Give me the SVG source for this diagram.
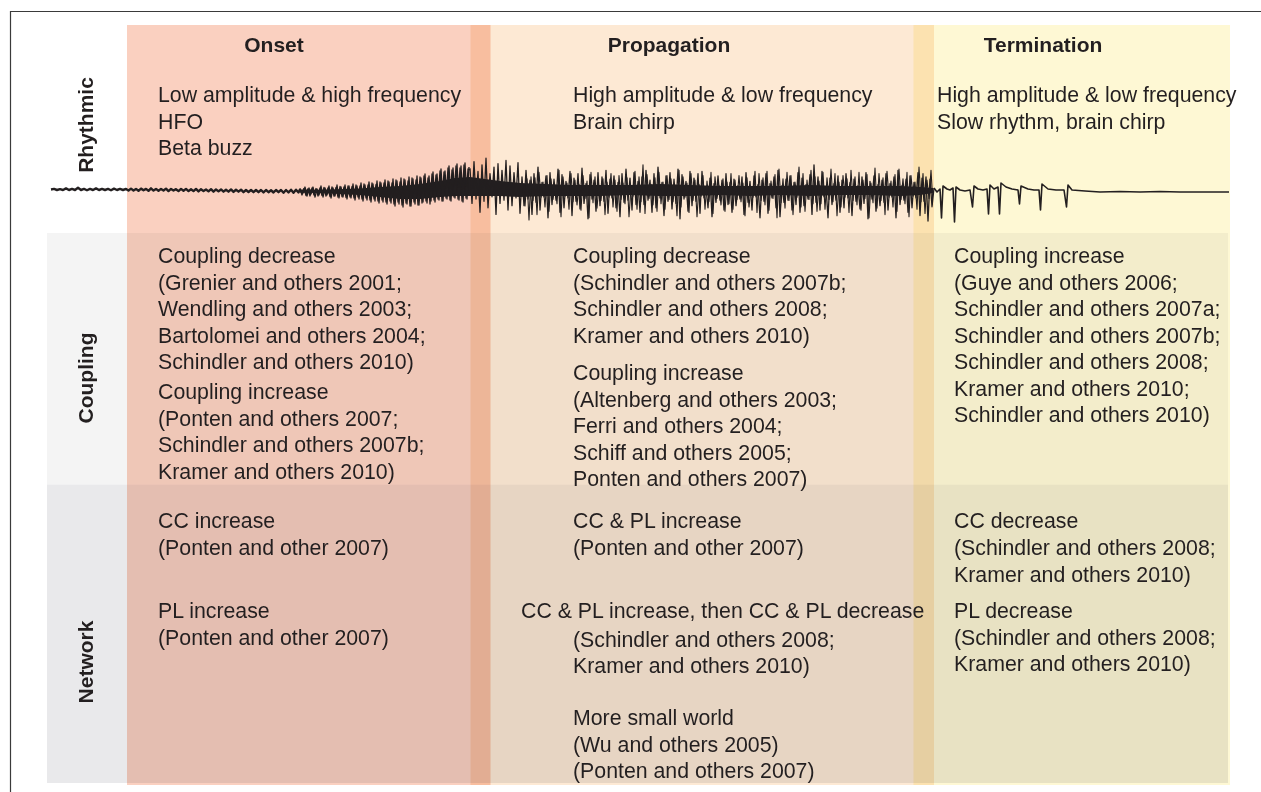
<svg xmlns="http://www.w3.org/2000/svg" width="1261" height="792" viewBox="0 0 1261 792">
<style>
text{font-family:"Liberation Sans",Arial,sans-serif;font-size:21.3px;fill:#231f20}
.h{font-weight:bold;text-anchor:middle;font-size:21px}
.col{mix-blend-mode:multiply}
</style>
<defs>
<clipPath id="mid"><rect x="474" y="140" width="459" height="100"/></clipPath>
<path id="burst" d="M470 170 472 202 474 164 476 198 478 173 480 210 482 167 484 200 486 161 488 206 490 175 492 196 494 169 496 212 498 166 500 202 502 172 504 199 506 163 508 208 510 168 512 204 514 174 516 197 518 165 520 211 522 178 524 204 526 172 528 198 530 181 532 212 534 175 536 201 538 169 540 208 542 183 544 196 546 177 548 215 550 174 552 203 554 180 556 199 558 171 560 210 562 176 564 206 566 182 568 197 570 173 572 213 574 179 576 200 578 175 580 207 582 170 584 202 586 184 588 216 590 176 592 198 594 181 596 209 598 174 600 204 602 178 604 200 606 172 608 211 610 180 612 197 614 177 616 206 618 183 620 214 622 175 624 201 626 171 628 199 630 179 632 208 634 174 636 203 638 182 640 210 642 178 644 203 646 172 648 199 650 181 652 210 654 175 656 206 658 169 660 197 662 183 664 213 666 177 668 200 670 174 672 207 674 180 676 202 678 171 680 216 682 176 684 198 686 182 688 209 690 173 692 204 694 179 696 200 698 175 700 211 702 173 704 197 706 187 708 206 710 179 712 214 714 184 716 201 718 177 720 199 722 181 724 208 726 175 728 203 730 183 732 210 734 180 736 204 738 186 740 198 742 178 744 212 746 174 748 201 750 182 752 208 754 177 756 196 758 185 760 215 762 181 764 200 766 175 768 211 770 184 772 197 774 178 776 206 778 172 780 214 782 186 784 201 786 180 788 199 790 177 792 208 794 183 796 203 798 174 800 210 802 179 804 204 806 185 808 198 810 176 812 212 814 167 816 201 818 178 820 208 822 173 824 196 826 187 828 215 830 179 832 203 834 184 836 199 838 177 840 210 842 181 844 206 846 175 848 197 850 183 852 213 854 180 856 200 858 186 860 207 862 178 864 202 866 174 868 216 870 182 872 198 874 177 876 209 878 185 880 204 882 181 884 201 886 175 888 208 890 184 892 196 894 178 896 215 898 172 900 203 902 186 904 199 906 180 908 210 910 177 912 206 914 183 916 197 918 174 920 213 922 179 924 200 926 178 928 218 930 180 932 205 934 188"/>
</defs>
<rect width="1261" height="792" fill="#ffffff"/>
<g id="frame"><path d="M10.5 792V11.5H1261" fill="none" stroke="#3a3a3a" stroke-width="1.2"/></g>
<g id="rows">
<rect x="47" y="233" width="1181" height="251.5" fill="#f4f4f4"/>
<rect x="47" y="484.5" width="1181" height="298.5" fill="#e9e9eb"/>
</g>
<g id="columns">
<rect class="col" x="127" y="25" width="363.5" height="760" fill="#fad0c0"/>
<rect class="col" x="470.5" y="25" width="463.5" height="760" fill="#fde9d4"/>
<rect class="col" x="913.5" y="25" width="316.5" height="760" fill="#fef8d4"/>
</g>
<g id="waveform" fill="none" stroke="#231f20" stroke-linejoin="round">
<path fill="#231f20" stroke="none" d="M300 190 330 189.5 360 188.5 380 187 400 186 420 184 440 181 455 178 470 177 485 179 500 181 520 183 545 184 570 185 600 185 630 185 660 184 690 185 720 186 750 186 780 186 810 185 840 186 870 186 900 186 920 187 933 188 933 193 920 195 900 196 870 195 840 195 810 196 780 195 750 196 720 195 690 196 660 196 630 195 600 196 570 196 545 196 520 197 500 196 485 196 470 196 455 196 440 197 420 199 400 199 380 197 360 195 330 193.5 300 192.5Z"/>
<path stroke-width="2.4" vector-effect="non-scaling-stroke" transform="matrix(1 0 0 0.55 0 85.5)" d="M51 189 54 188 57 190 60 188.5 63 190 66 187 69 190 72 188 75 190 78 186 81 190 84 188 87 190.5 90 188 93 190 96 187 99 190 102 188 105 190 108 188 111 190.5 114 187.5 117 190 120 188 123 190 126 188 128.5 191 131 187.5 133.5 191 136 188 138.5 191.5 141 187.5 143.5 190.5 146 188 148.5 191.5 151 187 153.5 191 156 188 158.5 191.5 161 188 163.5 191 166 187.5 168.5 192 171 188 173.5 191 176 188.5 178.5 192 181 188 183.5 191.5 186 188 188.5 192 191 188.5 193.5 192 196 188 198.5 192.5 201 188.5 203.5 192 206 189 208.5 192.5 211 188.5 213.5 193 216 189 218.5 192.5 221 189 223.5 193 226 189.5 228.5 193 231 189 233.5 193.5 236 189.5 238.5 193 241 189.5 243.5 194 246 190 248.5 193.5 251 190 253.5 194 256 190 258.5 194 261 190 263.5 194.5 266 190 268.5 194 271 190.5 273.5 194.5 276 190 278.5 194 281 190 283.5 195 286 190 288.5 194.5 291 189.5 293.5 195 296 189.5 298.5 194.5 300 189 302 194 304 189 306 195 308 189.5 310 195 312 189"/>
<path stroke-width="1.3" d="M300 189 302 195 304 188.5 306 195.5 308 189 310 196 312 188 314 195 316 188.5 318 196 320 188 322 195.5 324 187.5 326 196 328 188 330 196.5 332 187 334 196 336 187.5 338 197 340 186.5 342 196.5 344 187 346 197.5 348 186 350 197 352 186.5 354 198 356 185 358 197 360 186 362 199 364 184 366 198 368 185 370 200 372 183 374 199 376 184.5 378 201 380 182 382 200 384 183 386 202 388 181 390 201 392 183 394 204 396 180 398 202 400 182 402 205 404 179 406 203 408 181 410 206 412 178 414 202 416 180 418 205 420 177 422 203 424 176 426 201 428 178 430 204 432 174 434 200 436 175 438 199 440 171 442 201 444 172 446 198 448 168 450 200 452 170 454 197 456 166 458 199 460 168 462 201 464 165 466 198 468 169 470 170"/>
<path stroke-width="1.3" d="M301 190 303 193 305 187 307 196 309 188 311 194 313 187 315 197 317 189 319 195 321 186 323 197 325 188 327 195 329 186 331 198 333 188 335 196 337 185 339 198 341 187 343 197 345 185 347 199 349 186 351 198 353 184 355 200 357 186 359 199 361 183 363 201 365 185 367 200 369 182 371 202 373 184 375 201 377 181 379 203 381 183 383 202 385 180 387 204 389 182 391 203 393 179 395 206 397 181 399 204 401 178 403 207 405 180 407 204 409 177 411 206 413 179 415 204 417 176 419 205 421 178 423 202 425 174 427 203 429 176 431 201 433 172 435 202 437 174 439 200 441 169 443 201 445 171 447 199 449 166 451 201 453 168 455 198 457 164 459 200 461 166 463 202 465 163 467 199 469 167"/>
<g transform="matrix(1 0 0 1.1 0 -18.8)">
<use href="#burst" stroke-width="1.3"/>
</g>
<g clip-path="url(#mid)">
<use href="#burst" stroke-width="1.1" transform="matrix(-1 0 0 1.08 1457 -15.5)"/>
</g>
<path stroke-width="1.6" d="M934 188 937 192 940 189 941.5 218 943 186 947 189 950 190 953 188 954.5 222 956 187 960 190 965 191 970 190 972.5 207 974 186 978 189 983 190 987 189 988.5 214 990 185 994 189 998 187 999.5 214 1001 183 1006 187 1012 189 1018 190 1019.5 204 1021 186 1028 189 1034 190 1039 190 1040.5 210 1042 184 1048 189 1056 190 1064 190 1066.5 207 1068 185 1072 190 1085 191 1100 192 1120 191.5 1140 192 1160 191.5 1180 192 1200 192 1229 192"/>
</g>
<g id="headers">
<text class="h" x="274" y="52">Onset</text>
<text class="h" x="669" y="52">Propagation</text>
<text class="h" x="1043" y="52">Termination</text>
</g>
<g id="row-labels">
<text class="h" transform="translate(92.5 125) rotate(-90)">Rhythmic</text>
<text class="h" transform="translate(92.5 378) rotate(-90)">Coupling</text>
<text class="h" transform="translate(92.5 662) rotate(-90)">Network</text>
</g>
<g id="onset-rhythmic"><text x="158" y="102">Low amplitude &amp; high frequency</text><text x="158" y="128.5">HFO</text><text x="158" y="155">Beta buzz</text></g>
<g id="propagation-rhythmic"><text x="573" y="102">High amplitude &amp; low frequency</text><text x="573" y="128.5">Brain chirp</text></g>
<g id="termination-rhythmic"><text x="937" y="102">High amplitude &amp; low frequency</text><text x="937" y="128.5">Slow rhythm, brain chirp</text></g>
<g id="onset-coupling">
<text x="158" y="263">Coupling decrease</text>
<text x="158" y="289.5">(Grenier and others 2001;</text>
<text x="158" y="316">Wendling and others 2003;</text>
<text x="158" y="342.5">Bartolomei and others 2004;</text>
<text x="158" y="369">Schindler and others 2010)</text>
<text x="158" y="399">Coupling increase</text>
<text x="158" y="425.5">(Ponten and others 2007;</text>
<text x="158" y="452">Schindler and others 2007b;</text>
<text x="158" y="478.5">Kramer and others 2010)</text>
</g>
<g id="propagation-coupling">
<text x="573" y="263">Coupling decrease</text>
<text x="573" y="289.5">(Schindler and others 2007b;</text>
<text x="573" y="316">Schindler and others 2008;</text>
<text x="573" y="342.5">Kramer and others 2010)</text>
<text x="573" y="380">Coupling increase</text>
<text x="573" y="406.5">(Altenberg and others 2003;</text>
<text x="573" y="433">Ferri and others 2004;</text>
<text x="573" y="459.5">Schiff and others 2005;</text>
<text x="573" y="486">Ponten and others 2007)</text>
</g>
<g id="termination-coupling">
<text x="954" y="263">Coupling increase</text>
<text x="954" y="289.5">(Guye and others 2006;</text>
<text x="954" y="316">Schindler and others 2007a;</text>
<text x="954" y="342.5">Schindler and others 2007b;</text>
<text x="954" y="369">Schindler and others 2008;</text>
<text x="954" y="395.5">Kramer and others 2010;</text>
<text x="954" y="422">Schindler and others 2010)</text>
</g>
<g id="onset-network">
<text x="158" y="528">CC increase</text>
<text x="158" y="555">(Ponten and other 2007)</text>
<text x="158" y="618">PL increase</text>
<text x="158" y="644.5">(Ponten and other 2007)</text>
</g>
<g id="propagation-network">
<text x="573" y="528">CC &amp; PL increase</text>
<text x="573" y="555">(Ponten and other 2007)</text>
<text x="521" y="618">CC &amp; PL increase, then CC &amp; PL decrease</text>
<text x="573" y="647">(Schindler and others 2008;</text>
<text x="573" y="673">Kramer and others 2010)</text>
<text x="573" y="725">More small world</text>
<text x="573" y="751.5">(Wu and others 2005)</text>
<text x="573" y="778">(Ponten and others 2007)</text>
</g>
<g id="termination-network">
<text x="954" y="528">CC decrease</text>
<text x="954" y="555">(Schindler and others 2008;</text>
<text x="954" y="581.5">Kramer and others 2010)</text>
<text x="954" y="618">PL decrease</text>
<text x="954" y="644.5">(Schindler and others 2008;</text>
<text x="954" y="671">Kramer and others 2010)</text>
</g>
</svg>
